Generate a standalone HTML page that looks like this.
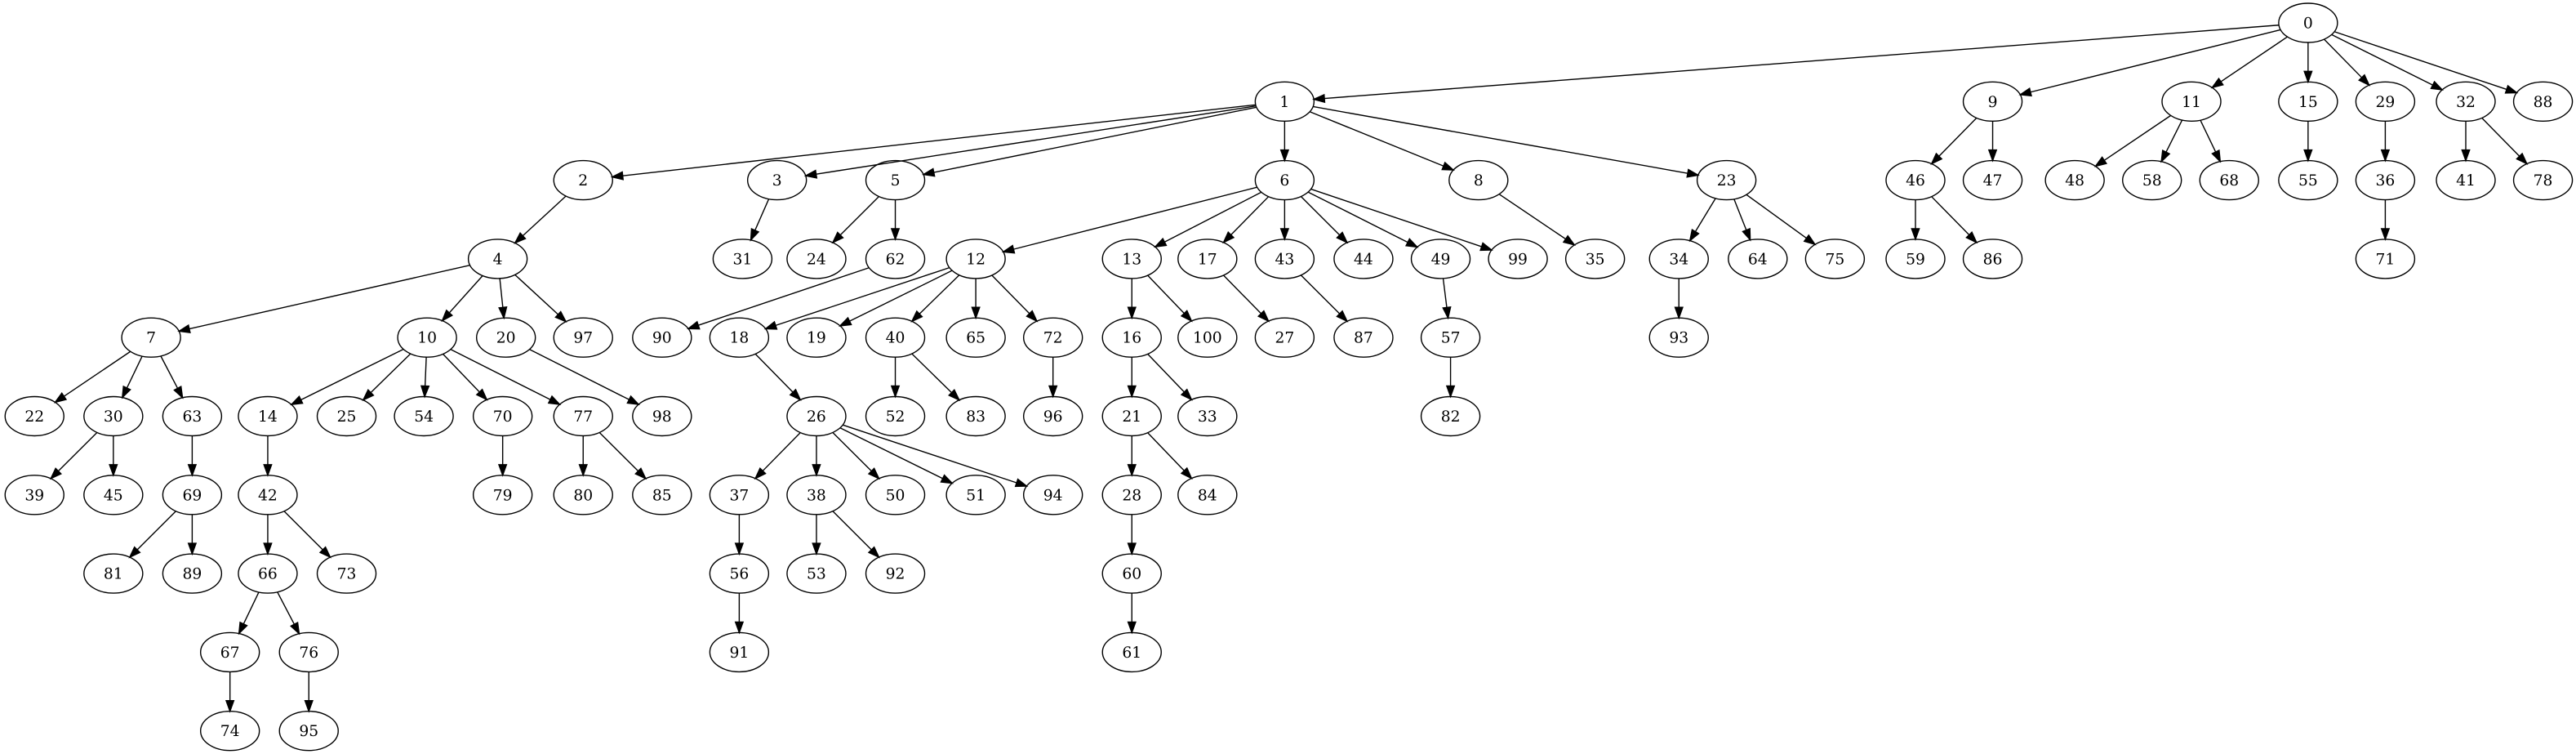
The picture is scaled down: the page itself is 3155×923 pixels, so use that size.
<!DOCTYPE html>
<html><head><meta charset="utf-8"><style>
html,body{margin:0;padding:0;background:#fff;}
svg{display:block;}
text{font-family:"DejaVu Serif","Liberation Serif",serif;font-size:18.7px;}
</style></head><body>
<svg id="g" width="3155" height="923" viewBox="0 0 3155 923" xmlns="http://www.w3.org/2000/svg"></svg>
<script>
var R=[
[[0,1404]],
[[1,781],[9,1212],[11,1333],[15,1404],[29,1451],[32,1500],[88,1547]],
[[2,354],[3,472],[5,544],[6,781],[8,899],[23,1050],[46,1165],[47,1212],[48,1262],[58,1309],[68,1356],[55,1404],[36,1451],[41,1500],[78,1547]],
[[4,302],[31,451],[24,496],[62,544],[12,593],[13,688],[17,734],[43,781],[44,829],[49,876],[99,923],[35,970],[34,1021],[64,1069],[75,1116],[59,1165],[86,1212],[71,1451]],
[[7,91],[10,259],[20,307],[97,354],[90,402],[18,449],[19,496],[40,544],[65,593],[72,640],[16,688],[100,734],[27,781],[87,829],[57,882],[93,1021]],
[[22,20],[30,68],[63,116],[14,162],[25,210],[54,257],[70,305],[77,354],[98,402],[26,496],[52,544],[83,593],[96,640],[21,688],[33,734],[82,882]],
[[39,20],[45,68],[69,116],[42,162],[79,305],[80,354],[85,402],[37,449],[38,496],[50,544],[51,593],[94,640],[28,688],[84,734]],
[[81,68],[89,116],[66,162],[73,210],[56,449],[53,496],[92,544],[60,688]],
[[67,139],[76,187],[91,449],[61,688]],
[[74,139],[95,187]]];
var E={0:[1,9,11,15,29,32,88],1:[2,3,5,6,8,23],9:[46,47],11:[48,58,68],15:[55],29:[36],32:[41,78],
2:[4],3:[31],5:[24,62],6:[12,13,17,43,44,49,99],8:[35],23:[34,64,75],46:[59,86],36:[71],
4:[7,10,20,97],62:[90],12:[18,19,40,65,72],13:[16,100],17:[27],43:[87],49:[57],34:[93],
7:[22,30,63],10:[14,25,54,70,77],20:[98],18:[26],40:[52,83],72:[96],16:[21,33],57:[82],
30:[39,45],63:[69],14:[42],70:[79],77:[80,85],26:[37,38,50,51,94],21:[28,84],
69:[81,89],42:[66,73],37:[56],38:[53,92],28:[60],66:[67,76],56:[91],60:[61],67:[74],76:[95]};
var P={},rx=36,ry=24,s='';
R.forEach(function(row,k){row.forEach(function(n){P[n[0]]=[n[1]*2.012+2,28+k*96.3];});});
function bd(c,dx,dy){var t=1/Math.sqrt(dx*dx/(rx*rx)+dy*dy/(ry*ry));return [c[0]+dx*t,c[1]+dy*t];}
for(var a in E){E[a].forEach(function(b){var p=P[a],q=P[b],dx=q[0]-p[0],dy=q[1]-p[1];
var st=bd(p,dx,dy),en=bd(q,-dx,-dy);var L=Math.hypot(en[0]-st[0],en[1]-st[1]);var ux=(en[0]-st[0])/L,uy=(en[1]-st[1])/L;
var bx=en[0]-ux*13,by=en[1]-uy*13;
s+='<line x1="'+st[0]+'" y1="'+st[1]+'" x2="'+bx+'" y2="'+by+'" stroke="#000" stroke-width="1.4"/>';
s+='<polygon points="'+en[0]+','+en[1]+' '+(bx-uy*4.7)+','+(by+ux*4.7)+' '+(bx+uy*4.7)+','+(by-ux*4.7)+'" fill="#000" stroke="#000" stroke-width="1.4"/>';});}
for(var n in P){var c=P[n];s+='<ellipse cx="'+c[0]+'" cy="'+c[1]+'" rx="'+rx+'" ry="'+ry+'" fill="none" stroke="#000" stroke-width="1.4"/>';
s+='<text x="'+c[0]+'" y="'+(c[1]+6.5)+'" text-anchor="middle">'+n+'</text>';}
document.getElementById('g').innerHTML=s;
</script>
</body></html>
